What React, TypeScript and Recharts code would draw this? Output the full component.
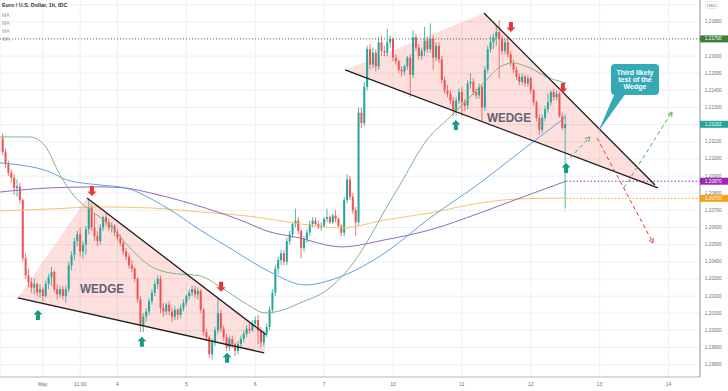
import {
  ComposedChart,
  Bar,
  Line,
  Area,
  Scatter,
  XAxis,
  YAxis,
  CartesianGrid,
  ReferenceLine,
} from "recharts";

// hourly candles [open, high, low, close], first one at hour -16 (May 3 00:00 = 0)
const FIRST_HOUR = -16;
const CANDLES: [number, number, number, number][] = [
  [1.2112, 1.2115, 1.2102, 1.2104], [1.2104, 1.2106, 1.2095, 1.2097], [1.2097, 1.2099, 1.209, 1.2092],
  [1.2092, 1.2094, 1.2086, 1.2089], [1.2089, 1.2091, 1.2079, 1.2083], [1.2083, 1.2088, 1.2078, 1.2084],
  [1.2084, 1.2086, 1.2074, 1.2076], [1.2076, 1.2077, 1.204, 1.2042], [1.2042, 1.2045, 1.203, 1.2032],
  [1.2032, 1.2036, 1.2025, 1.2028], [1.2028, 1.2031, 1.2022, 1.2025], [1.2025, 1.203, 1.2021, 1.2027],
  [1.2027, 1.2028, 1.202, 1.2022], [1.2022, 1.2027, 1.2019, 1.2024], [1.2024, 1.2025, 1.2017, 1.202],
  [1.202, 1.2029, 1.2019, 1.2027], [1.2027, 1.2033, 1.2024, 1.2031],
  // May 3
  [1.2031, 1.2037, 1.2026, 1.2034], [1.2034, 1.2035, 1.2022, 1.2024], [1.2024, 1.2027, 1.2018, 1.2021],
  [1.2021, 1.2026, 1.2019, 1.2024], [1.2024, 1.2026, 1.2018, 1.202], [1.202, 1.2026, 1.2016, 1.2024],
  [1.2024, 1.204, 1.2022, 1.2038], [1.2038, 1.2046, 1.2035, 1.2044], [1.2044, 1.2054, 1.2041, 1.2052],
  [1.2052, 1.2058, 1.2049, 1.2056], [1.2056, 1.206, 1.2043, 1.2046], [1.2046, 1.2052, 1.2042, 1.205],
  [1.205, 1.2061, 1.2044, 1.2059], [1.2059, 1.2076, 1.2056, 1.2072], [1.2072, 1.2074, 1.2058, 1.206],
  [1.206, 1.2068, 1.2052, 1.2055], [1.2055, 1.2058, 1.2049, 1.2052], [1.2052, 1.2062, 1.205, 1.206],
  [1.206, 1.2067, 1.2058, 1.2066], [1.2066, 1.2068, 1.2061, 1.2063], [1.2063, 1.2065, 1.2058, 1.206],
  [1.206, 1.2063, 1.2057, 1.2061], [1.2061, 1.2062, 1.2055, 1.2057], [1.2057, 1.2059, 1.2052, 1.2054],
  // May 4
  [1.2054, 1.2056, 1.2049, 1.2051], [1.2051, 1.2052, 1.2044, 1.2046], [1.2046, 1.2048, 1.2041, 1.2043],
  [1.2043, 1.2045, 1.2036, 1.2038], [1.2038, 1.2041, 1.2034, 1.2036], [1.2036, 1.2037, 1.2028, 1.203],
  [1.203, 1.2031, 1.2016, 1.2018], [1.2018, 1.202, 1.1999, 1.2003], [1.2003, 1.201, 1.1999, 1.2008],
  [1.2008, 1.2013, 1.2005, 1.2011], [1.2011, 1.2019, 1.2009, 1.2017], [1.2017, 1.2024, 1.2015, 1.2022],
  [1.2022, 1.2029, 1.202, 1.2027], [1.2027, 1.2032, 1.2024, 1.203], [1.203, 1.2032, 1.201, 1.2013],
  [1.2013, 1.2016, 1.2008, 1.2011], [1.2011, 1.2016, 1.2009, 1.2015], [1.2015, 1.2017, 1.2009, 1.2011],
  [1.2011, 1.2013, 1.2005, 1.2008], [1.2008, 1.2014, 1.2006, 1.2012], [1.2012, 1.2013, 1.2006, 1.2009],
  [1.2009, 1.2015, 1.2007, 1.2013], [1.2013, 1.2018, 1.2011, 1.2016], [1.2016, 1.2021, 1.2014, 1.202],
  // May 5
  [1.202, 1.2024, 1.2018, 1.2022], [1.2022, 1.2026, 1.202, 1.2024], [1.2024, 1.2026, 1.2019, 1.2021],
  [1.2021, 1.2025, 1.2018, 1.2023], [1.2023, 1.2024, 1.201, 1.2012], [1.2012, 1.2013, 1.1997, 1.1999],
  [1.1999, 1.2001, 1.1994, 1.1996], [1.1996, 1.1997, 1.1984, 1.1986], [1.1986, 1.1995, 1.1983, 1.1993],
  [1.1993, 1.2002, 1.1991, 1.2], [1.2, 1.2018, 1.1998, 1.201], [1.201, 1.2012, 1.1999, 1.2001],
  [1.2001, 1.2003, 1.1994, 1.1996], [1.1996, 1.1998, 1.1988, 1.199], [1.199, 1.1997, 1.1988, 1.1995],
  [1.1995, 1.1997, 1.199, 1.1992], [1.1992, 1.1993, 1.1985, 1.1988], [1.1988, 1.1994, 1.1986, 1.1992],
  [1.1992, 1.1997, 1.199, 1.1995], [1.1995, 1.2, 1.1993, 1.1998], [1.1998, 1.2003, 1.1996, 1.2001],
  [1.2001, 1.2004, 1.1998, 1.2], [1.2, 1.2006, 1.1999, 1.2004], [1.2004, 1.2008, 1.2002, 1.2006],
  // May 6
  [1.2006, 1.2009, 1.1992, 1.2], [1.2, 1.2002, 1.199, 1.1993], [1.1993, 1.2, 1.1991, 1.1998],
  [1.1998, 1.2004, 1.1996, 1.2002], [1.2002, 1.2014, 1.2, 1.2012], [1.2012, 1.2024, 1.201, 1.2022],
  [1.2022, 1.2038, 1.202, 1.2036], [1.2036, 1.2043, 1.2033, 1.2041], [1.2041, 1.2047, 1.2038, 1.2045],
  [1.2045, 1.2047, 1.2038, 1.204], [1.204, 1.2054, 1.2038, 1.2052], [1.2052, 1.2058, 1.205, 1.2056],
  [1.2056, 1.2063, 1.2054, 1.2062], [1.2062, 1.2071, 1.206, 1.2064], [1.2064, 1.2066, 1.2056, 1.2058],
  [1.2058, 1.2059, 1.2042, 1.2048], [1.2048, 1.2055, 1.2046, 1.2053], [1.2053, 1.2059, 1.2051, 1.2057],
  [1.2057, 1.2064, 1.2055, 1.2062], [1.2062, 1.2066, 1.206, 1.2064], [1.2064, 1.2066, 1.2061, 1.2062],
  [1.2062, 1.2064, 1.2059, 1.206], [1.206, 1.2063, 1.2058, 1.2061],
  // May 7
  [1.2061, 1.2066, 1.206, 1.2065], [1.2065, 1.2071, 1.2063, 1.2066], [1.2066, 1.2067, 1.2062, 1.2063],
  [1.2063, 1.2068, 1.2062, 1.2067], [1.2067, 1.207, 1.2063, 1.2065], [1.2065, 1.2066, 1.206, 1.2061],
  [1.2061, 1.2062, 1.2055, 1.2057], [1.2057, 1.2078, 1.2055, 1.2076], [1.2076, 1.2091, 1.2074, 1.2088],
  [1.2088, 1.209, 1.2076, 1.2078], [1.2078, 1.208, 1.2068, 1.207], [1.207, 1.2072, 1.2055, 1.2063],
  [1.2063, 1.213, 1.2061, 1.2127], [1.2127, 1.213, 1.2118, 1.2121], [1.2121, 1.2145, 1.2119, 1.2142],
  [1.2142, 1.2166, 1.214, 1.2164], [1.2164, 1.2167, 1.2152, 1.2155], [1.2155, 1.2165, 1.2153, 1.2162],
  [1.2162, 1.2164, 1.2151, 1.2154], [1.2154, 1.2171, 1.2152, 1.2168], [1.2168, 1.2172, 1.216, 1.2163],
  [1.2163, 1.2166, 1.216, 1.2162], [1.2162, 1.2176, 1.216, 1.2168], [1.2168, 1.2172, 1.2165, 1.217],
  // May 10
  [1.217, 1.2171, 1.2157, 1.2159], [1.2159, 1.2161, 1.2155, 1.2157], [1.2157, 1.2158, 1.215, 1.2152],
  [1.2152, 1.2154, 1.2148, 1.2151], [1.2151, 1.2155, 1.2149, 1.2154], [1.2154, 1.216, 1.2152, 1.2159],
  [1.2159, 1.2161, 1.2136, 1.2149], [1.2149, 1.2175, 1.2147, 1.2171], [1.2171, 1.2173, 1.2163, 1.2165],
  [1.2165, 1.2167, 1.2158, 1.216], [1.216, 1.2165, 1.2158, 1.2163], [1.2163, 1.2177, 1.216, 1.2169],
  [1.2169, 1.2171, 1.2162, 1.2164], [1.2164, 1.2179, 1.2162, 1.217], [1.217, 1.2172, 1.2152, 1.2159],
  [1.2159, 1.2168, 1.2157, 1.2166], [1.2166, 1.2168, 1.2156, 1.2158], [1.2158, 1.216, 1.2144, 1.2146],
  [1.2146, 1.2148, 1.2138, 1.214], [1.214, 1.2143, 1.2136, 1.2138], [1.2138, 1.214, 1.2132, 1.2134],
  [1.2134, 1.2136, 1.2125, 1.2128], [1.2128, 1.2136, 1.2125, 1.2134], [1.2134, 1.2141, 1.2132, 1.2139],
  // May 11
  [1.2139, 1.2142, 1.2125, 1.2133], [1.2133, 1.2135, 1.2128, 1.2131], [1.2131, 1.2146, 1.2129, 1.2144],
  [1.2144, 1.215, 1.2141, 1.2145], [1.2145, 1.2147, 1.2137, 1.2139], [1.2139, 1.2141, 1.2135, 1.2137],
  [1.2137, 1.2144, 1.2135, 1.2142], [1.2142, 1.2143, 1.2122, 1.213], [1.213, 1.2154, 1.2128, 1.2152],
  [1.2152, 1.2166, 1.215, 1.2164], [1.2164, 1.2172, 1.2162, 1.2168], [1.2168, 1.2173, 1.2164, 1.2171],
  [1.2171, 1.2178, 1.2166, 1.2174], [1.2174, 1.2181, 1.2147, 1.217], [1.217, 1.2172, 1.2161, 1.2163],
  [1.2163, 1.217, 1.2161, 1.2168], [1.2168, 1.2171, 1.2159, 1.2161], [1.2161, 1.2163, 1.2154, 1.2156],
  [1.2156, 1.2158, 1.215, 1.2152], [1.2152, 1.2154, 1.2146, 1.2148], [1.2148, 1.215, 1.2143, 1.2145],
  [1.2145, 1.215, 1.2143, 1.2148], [1.2148, 1.2149, 1.2142, 1.2144], [1.2144, 1.2149, 1.2142, 1.2147],
  // May 12
  [1.2147, 1.2148, 1.2138, 1.214], [1.214, 1.2141, 1.2131, 1.2133], [1.2133, 1.2134, 1.2122, 1.2124],
  [1.2124, 1.2126, 1.2114, 1.2117], [1.2117, 1.2126, 1.2115, 1.2124], [1.2124, 1.2131, 1.2122, 1.2129],
  [1.2129, 1.2138, 1.2127, 1.2133], [1.2133, 1.214, 1.2131, 1.2139], [1.2139, 1.2141, 1.2134, 1.2136],
  [1.2136, 1.214, 1.2134, 1.2138], [1.2138, 1.2139, 1.2124, 1.2125], [1.2125, 1.2127, 1.2117, 1.2118],
  [1.2118, 1.2126, 1.2071, 1.21202],
];

const X_DOMAIN = [-16.93, 226.97];
const Y_DOMAIN = [1.19728, 1.21927];
const TIME_TICKS = [-2, 11, 24, 48, 72, 96, 120, 144, 168, 192, 216];
const TIME_LABELS = ["May", "11:00", "4", "5", "6", "7", "10", "11", "12", "13", "14"];
const PRICE_TICKS = [
  1.198, 1.199, 1.2, 1.201, 1.202, 1.203, 1.204, 1.205, 1.206, 1.207, 1.208,
  1.209, 1.21, 1.211, 1.212, 1.213, 1.214, 1.215, 1.216, 1.217, 1.218, 1.219,
];
const TAG_VALUES = [1.217, 1.21202, 1.2087, 1.2077];

// moving averages [hour, price]
const MA_GREEN = [
  [-16.93, 1.21128], [-6.48, 1.21128], [-1.25, 1.21076], [3.97, 1.20907], [9.2, 1.20778],
  [14.43, 1.20702], [21.39, 1.20615], [28.36, 1.20481], [35.33, 1.20376], [42.3, 1.20335],
  [52.75, 1.20318], [59.72, 1.20254], [68.43, 1.2016], [75.4, 1.20102], [80.63, 1.20114],
  [87.6, 1.2016], [97.0, 1.20236], [104.3, 1.20353], [112.0, 1.20545], [117.2, 1.20702],
  [122.4, 1.20848], [131.8, 1.21111], [139.9, 1.21245], [150.3, 1.2142], [157.3, 1.21536],
  [161.5, 1.2156], [167.7, 1.21531], [173.7, 1.21478], [178.9, 1.21449], [180.3, 1.21443],
];
const MA_BLUE = [
  [-16.93, 1.20977], [0.49, 1.20924], [6.41, 1.20877], [17.91, 1.20848], [26.62, 1.20831],
  [41.25, 1.20714], [52.75, 1.20586], [64.25, 1.20469], [77.14, 1.20341], [89.34, 1.20265],
  [101.53, 1.20312], [117.21, 1.20452], [132.89, 1.20656], [150.31, 1.2086], [164.25, 1.21041],
  [180.28, 1.21245],
];
const MA_PURPLE = [
  [-16.93, 1.20807], [0.49, 1.20831], [17.91, 1.20837], [26.62, 1.20831], [35.33, 1.20802],
  [51.01, 1.20732], [66.69, 1.20644], [77.14, 1.20574], [85.85, 1.20545], [102.23, 1.20487],
  [117.21, 1.20528], [132.89, 1.20586], [150.31, 1.20685], [164.25, 1.20772], [180.28, 1.2087],
];
const MA_ORANGE = [
  [-16.93, 1.20697], [0.49, 1.20708], [17.91, 1.2072], [35.33, 1.20714], [52.75, 1.20691],
  [71.92, 1.20662], [87.6, 1.20621], [102.23, 1.20598], [117.21, 1.20644], [132.89, 1.20685],
  [150.31, 1.20743], [164.25, 1.20767], [180.28, 1.20772],
];

// wedge drawings
const LEFT_LOWER = [[-10.7, 1.20189], [75.1, 1.19869]];
const LEFT_UPPER = [[13.4, 1.20772], [75.8, 1.19974]];
const RIGHT_LOWER = [[103.3, 1.21519], [212.3, 1.20831]];
const RIGHT_UPPER = [[151.7, 1.21851], [211.3, 1.20848]];
// [hour, low edge, high edge]
const LEFT_FILL = [[-10.7, 1.20189, 1.20189], [13.4, 1.20099, 1.20772], [75.5, 1.19868, 1.19974]];
const RIGHT_FILL = [[103.3, 1.21519, 1.21519], [151.7, 1.21214, 1.21851], [211.3, 1.20837, 1.20848]];

const PROJ_UP_1 = [[181.7, 1.21006], [188.6, 1.21128]];
const PROJ_DOWN = [[191.1, 1.21122], [210.6, 1.2051]];
const PROJ_UP_2 = [[200.5, 1.20831], [217.2, 1.21274]];

const UP_ARROWS = [[-3.7, 1.2009], [32.5, 1.19933], [62.2, 1.1984], [141.9, 1.21198], [180.3, 1.20947]];
const DOWN_ARROWS = [[15.1, 1.20813], [60.1, 1.20254], [161.1, 1.2177], [179.2, 1.21414]];
const WEDGE_LABELS = [[18.6, 1.20242], [160.4, 1.21239]];
const CALLOUT = [[195.96, 1.21554]];
const CALLOUT_TEXT = ["Third likely", "test of the", "Wedge"];

const UP = "#26a69a";
const DOWN = "#ef5350";
const FONT = "'Liberation Sans', Arial, sans-serif";

const candleData = CANDLES.map(([o, h, l, c], i) => ({ t: FIRST_HOUR + i, o, h, l, c, range: [l, h] }));
const pts = (a: number[][]) => a.map(([t, v]) => ({ t, v }));
const band = (a: number[][]) => a.map(([t, lo, hi]) => ({ t, v: [lo, hi] }));
const scat = (a: number[][]) => a.map(([t, p]) => ({ t, p }));

const Candle = (props: any) => {
  const { x, y, width, height, payload } = props;
  if (x == null || y == null) return null;
  const { o, h, l, c } = payload;
  const top = Math.min(y, y + height);
  const bot = Math.max(y, y + height);
  const k = h === l ? 0 : (bot - top) / (h - l);
  const yo = top + (h - o) * k;
  const yc = top + (h - c) * k;
  const cx = x + width / 2;
  const col = c >= o ? UP : DOWN;
  return (
    <g>
      <line x1={cx} x2={cx} y1={top} y2={bot} stroke={col} strokeWidth={0.8} />
      <rect x={cx - 1} y={Math.min(yo, yc)} width={2} height={Math.max(0.8, Math.abs(yo - yc))} fill={col} />
    </g>
  );
};

const arrowDot = (deg: number, color: string) => (props: any) => {
  const { cx, cy, index } = props;
  if (index !== 1) return <g key={`d${index}`} />;
  const a = (deg * Math.PI) / 180;
  const L = 5;
  const p1 = [cx + L * Math.cos(a + Math.PI - 0.5), cy + L * Math.sin(a + Math.PI - 0.5)];
  const p2 = [cx + L * Math.cos(a + Math.PI + 0.5), cy + L * Math.sin(a + Math.PI + 0.5)];
  return (
    <path key={`d${index}`} d={`M${p1[0]},${p1[1]} L${cx},${cy} L${p2[0]},${p2[1]}`} stroke={color} strokeWidth={1} fill="none" />
  );
};

const BlockArrow = ({ cx, cy, up }: any) => {
  const s = up ? 1 : -1;
  const d = [
    [cx, cy - 5 * s], [cx + 4.5, cy - 0.5 * s], [cx + 2, cy - 0.5 * s], [cx + 2, cy + 5 * s],
    [cx - 2, cy + 5 * s], [cx - 2, cy - 0.5 * s], [cx - 4.5, cy - 0.5 * s],
  ];
  return <polygon points={d.map((p) => p.join(",")).join(" ")} fill={up ? "#179984" : "#e53935"} />;
};

const WedgeLabel = ({ cx, cy }: any) => (
  <text x={cx} y={cy} textAnchor="middle" dominantBaseline="central" fontSize={13} fontWeight={700}
    fill="#5f6472" fontFamily={FONT} textLength={44} lengthAdjust="spacingAndGlyphs">
    WEDGE
  </text>
);

const Callout = ({ cx, cy }: any) => (
  <g>
    <polygon points={`${cx + 4},${cy + 29} ${cx + 15},${cy + 29} ${cx - 13},${cy + 68}`} fill="#36a9b6" />
    <rect x={cx} y={cy} width={48} height={31} rx={4} fill="#36a9b6" />
    {CALLOUT_TEXT.map((s, i) => (
      <text key={i} x={cx + 24} y={cy + 9 + i * 7} textAnchor="middle" dominantBaseline="central"
        fontSize={7} fontWeight={700} fill="#fff" fontFamily={FONT}>
        {s}
      </text>
    ))}
  </g>
);

const TAG_COLORS = ["#3f7f36", "#26a69a", "#9c27b0", "#f7a21b"];

const PriceTick = (props: any) => {
  const { x, y, payload } = props;
  const v = payload.value;
  const idx = TAG_VALUES.indexOf(v);
  if (idx >= 0) {
    return (
      <g>
        <rect x={x} y={y - 3.5} width={28} height={7} fill={TAG_COLORS[idx]} />
        <text x={x + 5} y={y} dominantBaseline="central" fontSize={4.6} fill="#fff" fontFamily={FONT}>
          {v.toFixed(5)}
        </text>
      </g>
    );
  }
  return (
    <text x={x + 5} y={y} dominantBaseline="central" fontSize={4.6} fill="#6b6e78" fontFamily={FONT}>
      {v.toFixed(5)}
    </text>
  );
};

const TimeTick = (props: any) => {
  const { x, y, payload } = props;
  const i = TIME_TICKS.indexOf(payload.value);
  return (
    <text x={x} y={y + 7} textAnchor="middle" dominantBaseline="central" fontSize={5} fill="#6b6e78" fontFamily={FONT}>
      {TIME_LABELS[i]}
    </text>
  );
};

export default function App() {
  // top tick sits under the currency badge, so only its grid line is drawn
  const yTicks = [...PRICE_TICKS.filter((v) => v !== 1.217 && v !== 1.219), ...TAG_VALUES];
  return (
    <div style={{ position: "absolute", left: 0, top: 0, width: 728, height: 391, background: "#fff", fontFamily: FONT }}>
      <ComposedChart width={728} height={391} data={candleData} margin={{ top: 0, right: 0, bottom: 0, left: 0 }}>
        <CartesianGrid stroke="#eef0f4" horizontalValues={PRICE_TICKS} />
        <XAxis dataKey="t" type="number" domain={X_DOMAIN} allowDataOverflow ticks={TIME_TICKS} interval={0}
          height={14} tickSize={0} tickMargin={0} tick={<TimeTick />} stroke="#b2b5be" />
        <YAxis orientation="right" type="number" domain={Y_DOMAIN} allowDataOverflow ticks={yTicks} interval={0}
          width={28} tickSize={0} tickMargin={0} tick={<PriceTick />} stroke="#9598a1" />

        <Area data={band(LEFT_FILL)} dataKey="v" type="linear" stroke="none" fill="#f44336" fillOpacity={0.17} isAnimationActive={false} />
        <Area data={band(RIGHT_FILL)} dataKey="v" type="linear" stroke="none" fill="#f44336" fillOpacity={0.17} isAnimationActive={false} />

        <ReferenceLine y={1.217} stroke="#4f8a3c" strokeDasharray="1 2" />
        <ReferenceLine segment={[{ x: 180.3, y: 1.2087 }, { x: 226.97, y: 1.2087 }]} stroke="#9c27b0" strokeDasharray="1.5 2" />
        <ReferenceLine segment={[{ x: 180.3, y: 1.2077 }, { x: 226.97, y: 1.2077 }]} stroke="#f7a21b" strokeDasharray="1.5 2" />

        <Line data={pts(MA_ORANGE)} dataKey="v" type="monotone" stroke="#f2c46e" strokeWidth={1} dot={false} isAnimationActive={false} />
        <Line data={pts(MA_PURPLE)} dataKey="v" type="monotone" stroke="#8f6cc0" strokeWidth={1} dot={false} isAnimationActive={false} />
        <Line data={pts(MA_BLUE)} dataKey="v" type="monotone" stroke="#5fa2dd" strokeWidth={1} dot={false} isAnimationActive={false} />
        <Line data={pts(MA_GREEN)} dataKey="v" type="monotone" stroke="#7fb77e" strokeWidth={1} dot={false} isAnimationActive={false} />

        <Bar dataKey="range" barSize={2} shape={<Candle />} isAnimationActive={false} />

        <Line data={pts(LEFT_LOWER)} dataKey="v" type="linear" stroke="#1c1c1c" strokeWidth={1.3} dot={false} isAnimationActive={false} />
        <Line data={pts(LEFT_UPPER)} dataKey="v" type="linear" stroke="#1c1c1c" strokeWidth={1.3} dot={false} isAnimationActive={false} />
        <Line data={pts(RIGHT_LOWER)} dataKey="v" type="linear" stroke="#1c1c1c" strokeWidth={1.3} dot={false} isAnimationActive={false} />
        <Line data={pts(RIGHT_UPPER)} dataKey="v" type="linear" stroke="#1c1c1c" strokeWidth={1.3} dot={false} isAnimationActive={false} />

        <Line data={pts(PROJ_UP_1)} dataKey="v" type="linear" stroke="#4caf50" strokeWidth={1} strokeDasharray="4 3"
          dot={arrowDot(-46, "#4caf50")} isAnimationActive={false} />
        <Line data={pts(PROJ_DOWN)} dataKey="v" type="linear" stroke="#e53935" strokeWidth={1} strokeDasharray="4 3"
          dot={arrowDot(62, "#e53935")} isAnimationActive={false} />
        <Line data={pts(PROJ_UP_2)} dataKey="v" type="linear" stroke="#4caf50" strokeWidth={1} strokeDasharray="4 3"
          dot={arrowDot(-59, "#4caf50")} isAnimationActive={false} />

        <Scatter data={scat(UP_ARROWS)} dataKey="p" shape={(p: any) => <BlockArrow {...p} up />} isAnimationActive={false} />
        <Scatter data={scat(DOWN_ARROWS)} dataKey="p" shape={(p: any) => <BlockArrow {...p} up={false} />} isAnimationActive={false} />
        <Scatter data={scat(WEDGE_LABELS)} dataKey="p" shape={(p: any) => <WedgeLabel {...p} />} isAnimationActive={false} />
        <Scatter data={scat(CALLOUT)} dataKey="p" shape={(p: any) => <Callout {...p} />} isAnimationActive={false} />
      </ComposedChart>

      <svg width={728} height={44} style={{ position: "absolute", left: 0, top: 0, pointerEvents: "none" }}>
        <text x={2} y={7} fontSize={5.4} fontWeight={700} fill="#333" fontFamily={FONT}>Euro / U.S. Dollar, 1h, IDC</text>
        {[15, 23.3, 31.6, 39.3].map((y, i) => (
          <text key={i} x={2} y={y + 1.8} fontSize={5} fill="#9a9a9a" fontFamily={FONT}>MA</text>
        ))}
        <rect x={705.5} y={1.5} width={12} height={7} rx={1.5} fill="#fff" stroke="#d6d8de" strokeWidth={0.6} />
        <text x={711.5} y={5.2} textAnchor="middle" dominantBaseline="central" fontSize={4.3} fill="#6b6e78" fontFamily={FONT}>USD</text>
      </svg>
    </div>
  );
}
